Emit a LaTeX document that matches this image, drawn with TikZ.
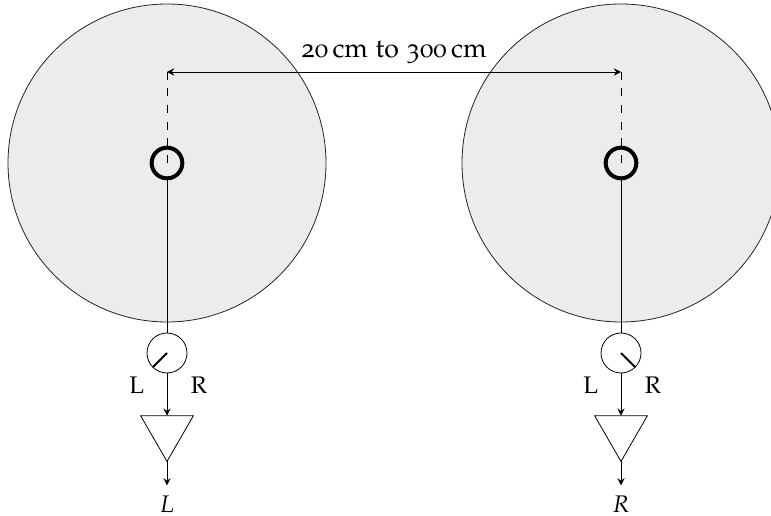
\documentclass[tikz,border=0pt]{standalone}
\usepackage[T1]{fontenc}
\usepackage[osf]{mathpazo}
\usepackage{xcolor}
\usetikzlibrary{positioning,arrows.meta,shapes.geometric,calc}
\definecolor{spkgrey}{HTML}{ECECEC}
\definecolor{inkgrey}{HTML}{222222}

\begin{document}
\begin{tikzpicture}[
  x=0.75pt, y=-0.75pt, >={Stealth[length=5.5pt,width=5.5pt,inset=2pt]},
  font=\fontsize{20}{24}\selectfont,
  every node/.style={outer sep=0pt},
  speaker/.style={circle,draw=inkgrey,fill=spkgrey,line width=0.6pt,minimum size=238.5pt},
  coil/.style={circle,draw=black,line width=3pt,minimum size=23pt},
  gauge/.style={circle,draw=black,line width=0.6pt,fill=white,minimum size=30pt},
  amp/.style={regular polygon,regular polygon sides=3,shape border rotate=180,
              draw=black,line width=0.6pt,inner sep=0pt,minimum size=45.75pt},
  arr/.style={->,line width=0.6pt},
  axis/.style={line width=0.6pt,dash pattern=on 6pt off 6.5pt},
  needle/.style={line width=1.5pt},
  lbl/.style={inner sep=0pt},
  chan/.style={lbl,font=\fontsize{18}{22}\selectfont}]

  \clip (0,0) rectangle (771,516);

  \node[speaker] (spkL) at (167,163) {};
  \node[speaker] (spkR) at (621,163) {};
  \node[coil] (coilL) at (167,163) {};
  \node[coil] (coilR) at (621,163) {};

  \node[gauge,below=116pt of coilL] (gaugeL) {};
  \node[gauge,below=116pt of coilR] (gaugeR) {};
  \node[amp,below=32pt of gaugeL] (ampL) {};
  \node[amp,below=32pt of gaugeR] (ampR) {};

  \node[chan,below=15.75pt of gaugeL.south,anchor=base,xshift=-22.7pt] (leftL) {L};
  \node[chan,below=15.75pt of gaugeL.south,anchor=base,xshift=24pt] (rightL) {R};
  \node[chan,below=15.75pt of gaugeR.south,anchor=base,xshift=-22.7pt] (leftR) {L};
  \node[chan,below=15.75pt of gaugeR.south,anchor=base,xshift=24pt] (rightR) {R};

  \coordinate[above=73.5pt of coilL.center] (topL);
  \coordinate[above=73.5pt of coilR.center] (topR);
  \coordinate[above=68.25pt of coilL.center] (dimL);
  \coordinate[above=68.25pt of coilR.center] (dimR);

  \coordinate[below=18pt of ampL.corner 1] (endL);
  \coordinate[below=18pt of ampR.corner 1] (endR);
  \node[chan,below=38pt of ampL.corner 1,anchor=base] (outL) {$L$};
  \node[chan,below=38pt of ampR.corner 1,anchor=base] (outR) {$R$};

  \draw[axis] (coilL.center) -- (topL);
  \draw[axis] (coilR.center) -- (topR);
  \draw[arr,<->] (dimL) -- node[lbl,above=11pt,anchor=base] (dist) {20\,cm to 300\,cm} (dimR);

  \draw[line width=0.6pt] (coilL) -- (gaugeL);
  \draw[line width=0.6pt] (coilR) -- (gaugeR);
  \draw[needle] (gaugeL.center) -- (gaugeL.-135);
  \draw[needle] (gaugeR.center) -- (gaugeR.-45);
  \draw[arr] (gaugeL) -- (ampL.side 2);
  \draw[arr] (gaugeR) -- (ampR.side 2);
  \draw[arr] (ampL.corner 1) -- (endL);
  \draw[arr] (ampR.corner 1) -- (endR);
\end{tikzpicture}
\end{document}
